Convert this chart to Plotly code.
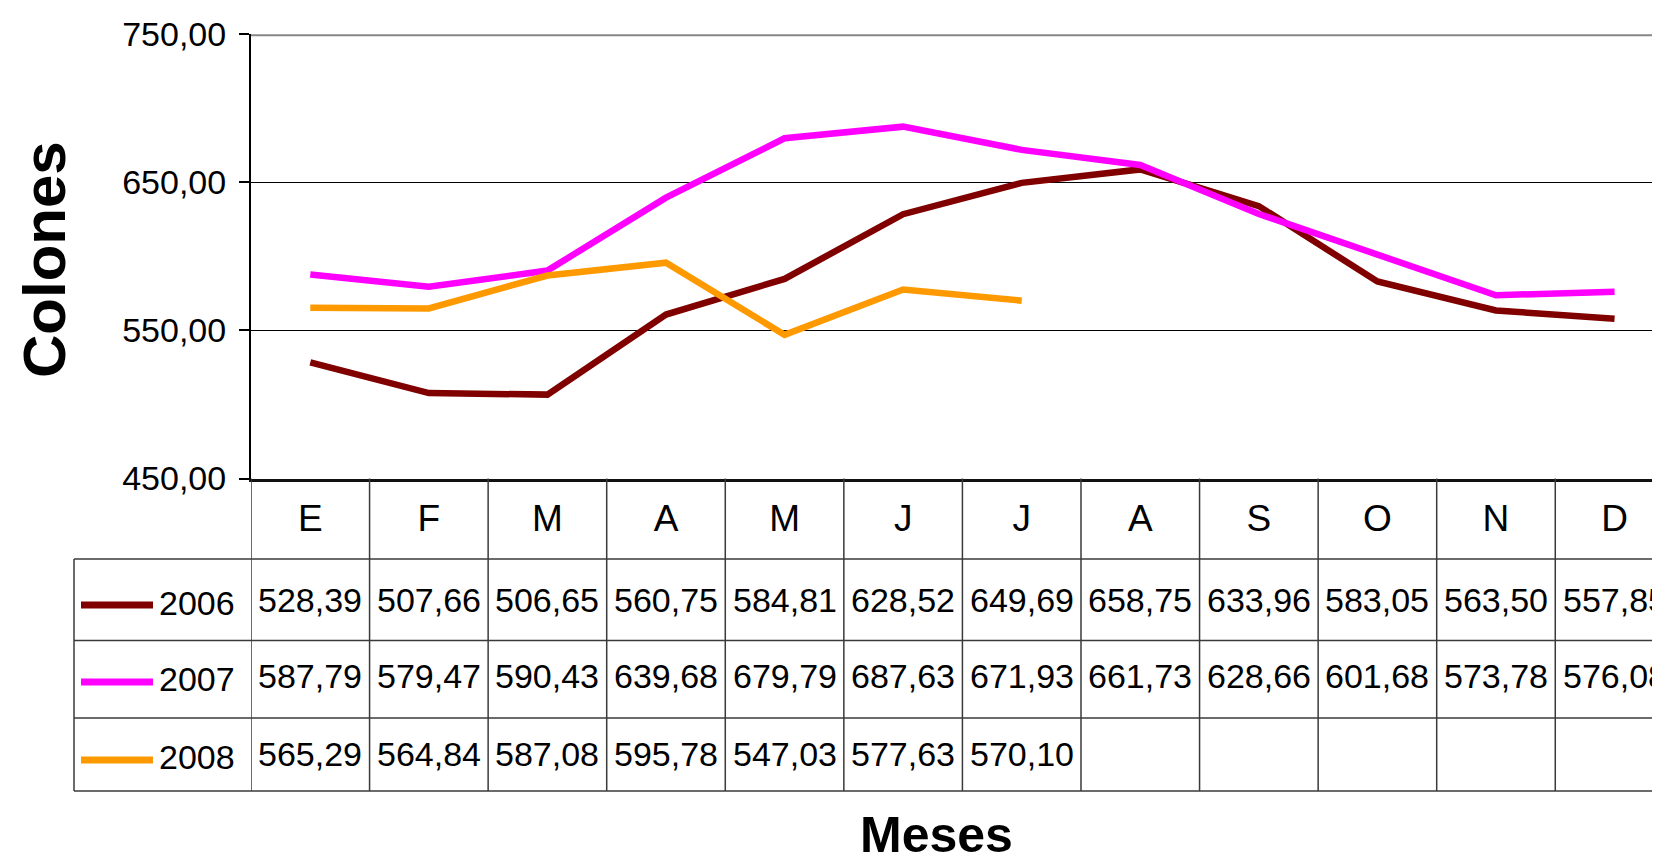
import plotly.graph_objects as go

# datos (colones por mes)
MESES = ["Enero", "Febrero", "Marzo", "Abril", "Mayo", "Junio",
         "Julio", "Agosto", "Septiembre", "Octubre", "Noviembre", "Diciembre"]
INICIALES = ["E", "F", "M", "A", "M", "J", "J", "A", "S", "O", "N", "D"]
ANIOS = ["2006", "2007", "2008"]
V2006 = [528.39, 507.66, 506.65, 560.75, 584.81, 628.52,
         649.69, 658.75, 633.96, 583.05, 563.50, 557.85]
V2007 = [587.79, 579.47, 590.43, 639.68, 679.79, 687.63,
         671.93, 661.73, 628.66, 601.68, 573.78, 576.08]
V2008 = [565.29, 564.84, 587.08, 595.78, 547.03, 577.63,
         570.10, None, None, None, None, None]
COLORES = ["#800000", "#FF00FF", "#FF9900"]
SERIES = [V2006, V2007, V2008]

# geometria en px de pantalla (la pagina deja 8px de margen en el body)
W, H = 1660, 861
OFF = 8
PLOT_L, PLOT_T, PLOT_B = 251, 34.3, 478.5
COL_W = 118.57
X_MAX = 11.5 - (PLOT_L + 12 * COL_W - (W + OFF)) / COL_W
TABLE_L = 74
ROW_EDGES = [478.5, 559, 640.5, 718, 791]
ROW_TXT = [600, 676, 754]
KEY_Y = [605, 682, 760]

FONT = "Liberation Sans, Arial, sans-serif"


def px(p):
    return (p - OFF) / W


def py(p):
    return 1 - (p - OFF) / H


def fmt(v):
    return f"{v:.2f}".replace(".", ",")


fig = go.Figure()
for anio, vals, color in zip(ANIOS, SERIES, COLORES):
    fig.add_trace(go.Scatter(
        x=MESES, y=vals, name=anio, mode="lines",
        line=dict(color=color, width=6.5),
        connectgaps=False, showlegend=False,
    ))

shapes = [
    dict(type="line", xref="x", yref="y", x0=-0.5, x1=11.5, y0=750, y1=750,
         line=dict(color="#878787", width=4)),
]
line_t = dict(color="#3a3a3a", width=1.5)
for k in range(-1, 12):
    shapes.append(dict(type="line", xref="x", yref="paper", x0=k + 0.5, x1=k + 0.5,
                       y0=py(ROW_EDGES[0]), y1=py(ROW_EDGES[-1]), line=line_t))
for e in ROW_EDGES[1:]:
    shapes.append(dict(type="line", xref="paper", yref="paper", x0=px(TABLE_L), x1=1,
                       y0=py(e), y1=py(e), line=line_t))
shapes.append(dict(type="line", xref="paper", yref="paper", x0=px(TABLE_L), x1=px(TABLE_L),
                   y0=py(ROW_EDGES[1]), y1=py(ROW_EDGES[-1]), line=line_t))
for ky, color in zip(KEY_Y, COLORES):
    shapes.append(dict(type="line", xref="paper", yref="paper", x0=px(81), x1=px(153),
                       y0=py(ky), y1=py(ky), line=dict(color=color, width=7)))

annotations = []
for anio, vals, ty in zip(ANIOS, SERIES, ROW_TXT):
    annotations.append(dict(xref="paper", yref="paper", x=px(237), y=py(ty + 3),
                            xanchor="right", yanchor="middle", text=anio, showarrow=False,
                            font=dict(family=FONT, size=34, color="black")))
    for mes, v in zip(MESES, vals):
        if v is None:
            continue
        annotations.append(dict(xref="x", yref="paper", x=mes, y=py(ty),
                                xanchor="center", yanchor="middle", text=fmt(v),
                                showarrow=False,
                                font=dict(family=FONT, size=34, color="black")))

annotations.append(dict(xref="paper", yref="paper", x=px(936), y=py(835),
                        xanchor="center", yanchor="middle", text="<b>Meses</b>",
                        showarrow=False, font=dict(family=FONT, size=50, color="black")))
annotations.append(dict(xref="paper", yref="paper", x=px(44), y=py(260),
                        xanchor="center", yanchor="middle", textangle=-90,
                        text="<b>Colones</b>",
                        showarrow=False, font=dict(family=FONT, size=60, color="black")))

fig.update_layout(
    template="none",
    width=W, height=H, autosize=False,
    margin=dict(l=0, r=0, t=0, b=0, pad=0),
    paper_bgcolor="white", plot_bgcolor="white",
    font=dict(family=FONT, size=34, color="black"),
    separators=",.",
    xaxis=dict(
        domain=[px(PLOT_L), 1], range=[-0.5, X_MAX], automargin=False,
        tickvals=MESES, ticktext=INICIALES, ticks="",
        showline=True, linecolor="#111111", linewidth=2.5,
        showgrid=False, zeroline=False, ticklabelstandoff=5,
        tickfont=dict(family=FONT, size=37, color="black"),
    ),
    yaxis=dict(
        domain=[py(PLOT_B), py(PLOT_T)], range=[450, 750], automargin=False,
        tick0=450, dtick=100, tickformat=".2f",
        ticks="outside", ticklen=10, tickwidth=1.5, tickcolor="black",
        showline=True, linecolor="black", linewidth=2,
        showgrid=True, gridcolor="black", gridwidth=1, zeroline=False,
        ticklabelstandoff=6,
        tickfont=dict(family=FONT, size=34, color="black"),
    ),
    shapes=shapes,
    annotations=annotations,
)

fig.write_html("out.html")
